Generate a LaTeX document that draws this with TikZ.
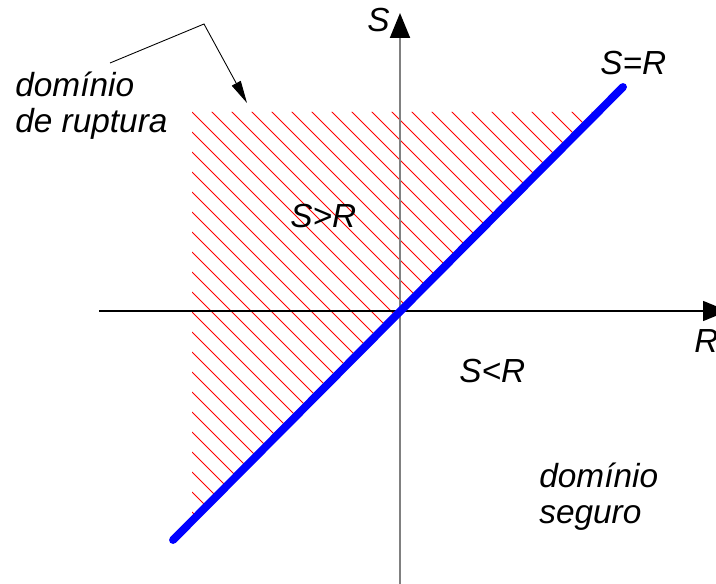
\documentclass[tikz,border=0pt]{standalone}
\usepackage{fontspec}
\setmainfont{Liberation Sans}
\usetikzlibrary{arrows.meta}

\begin{document}
\begin{tikzpicture}[x=0.02cm,y=-0.02cm,
  lbl/.style={font=\itshape\fontsize{19}{22}\selectfont,inner sep=0pt,anchor=base west},
  hatch/.style={red,line width=0.5pt},
  axis/.style={line width=0.8pt,-{Triangle[length=0.5cm,width=0.4cm,color=black]}}]
\useasboundingbox (0,0) rectangle (716,584);
% failure region
\begin{scope}
\clip (192,112) -- (599,112) -- (192,519) -- cycle;
\foreach \c in {-480,-460,...,320}
  \draw[hatch] (192,192+\c) -- ++(420,420);
\end{scope}
\coordinate (xl) at (99,311);
\coordinate (xr) at (728,311);
\coordinate (yb) at (400,584);
\coordinate (yt) at (400,13);
\draw[axis] (xl) -- (xr);
\draw[axis,gray,line width=1.1pt] (yb) -- (yt);
\coordinate (lo) at (173,540);
\coordinate (hi) at (623,87);
\draw[blue,line width=4.5pt,line cap=round] (lo) -- (hi);
\node[lbl] (s) at (367,32) {S};
\node[lbl] (r) at (694,352) {R};
\node[lbl] (eq) at (600,75) {S=R};
\node[lbl] (gt) at (290,227) {S>R};
\node[lbl] (lt) at (459,382) {S<R};
\node[lbl] (rup) at (15,97) {domínio};
\node[lbl] (rup2) at (15,133) {de ruptura};
\node[lbl] (seg) at (539,487) {domínio};
\node[lbl] (seg2) at (539,523) {seguro};
\coordinate (lead) at (110,63);
\coordinate (bend) at (204,24);
\coordinate (hit) at (247,103);
\draw[line width=0.5pt,-{Triangle[length=0.45cm,width=0.2cm]}] (lead) -- (bend) -- (hit);
\end{tikzpicture}
\end{document}
